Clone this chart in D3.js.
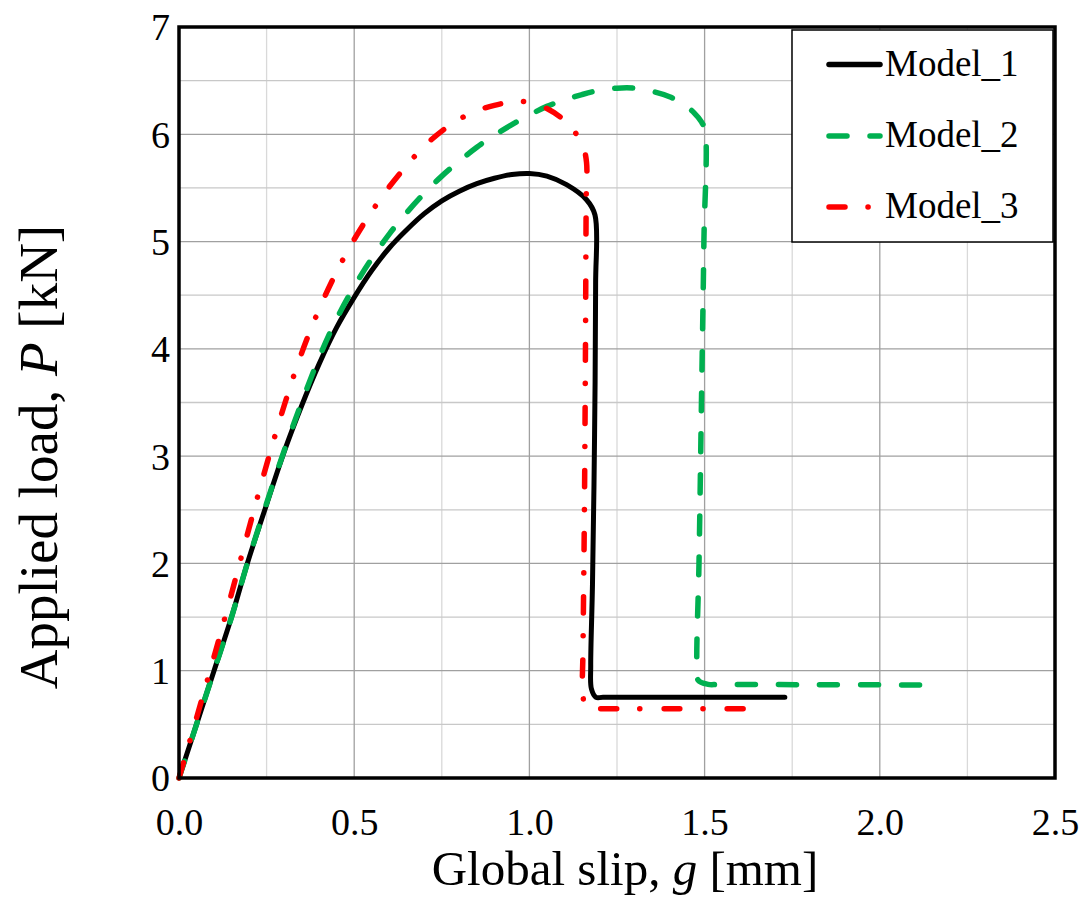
<!DOCTYPE html>
<html>
<head>
<meta charset="utf-8">
<script src="https://cdn.jsdelivr.net/npm/d3@7"></script>
<style>
  html, body { margin: 0; padding: 0; background: #fff; }
  svg { display: block; }
  text { font-family: "Liberation Serif", "Times New Roman", serif; fill: #000; }
</style>
</head>
<body>
<svg id="chart" width="1086" height="897"></svg>
<script>
// ---- data ----
const xTicks = [0.0, 0.5, 1.0, 1.5, 2.0, 2.5];
const xTickLabels = ["0.0", "0.5", "1.0", "1.5", "2.0", "2.5"];
const yTicks = [0, 1, 2, 3, 4, 5, 6, 7];
const yTickLabels = ["0", "1", "2", "3", "4", "5", "6", "7"];
const xMinorGrid = [0.25, 0.75, 1.25, 1.75, 2.25];
const yMinorGrid = [0.5, 1.5, 2.5, 3.5, 4.5, 5.5, 6.5];
const seriesNames = ["Model_1", "Model_2", "Model_3"];

const model1 = [[0,0],[0.05,0.5],[0.10,1.0],[0.15,1.5],[0.195,2.0],[0.25,2.55],[0.30,3.04],[0.35,3.47],
  [0.40,3.86],[0.45,4.20],[0.50,4.48],[0.55,4.73],[0.60,4.94],[0.65,5.11],[0.70,5.26],[0.75,5.38],
  [0.80,5.47],[0.85,5.54],[0.90,5.59],[0.95,5.625],[1.0,5.635],[1.05,5.61],[1.106,5.53],[1.163,5.39],
  [1.187,5.25],[1.189,4.6],[1.186,3.2],[1.180,1.8],[1.175,1.05],[1.177,0.83],[1.19,0.752],[1.21,0.752],
  [1.45,0.752],[1.729,0.752]];
const model2 = [[0,0],[0.05,0.5],[0.10,1.0],[0.15,1.5],[0.195,2.0],[0.25,2.56],[0.30,3.05],[0.35,3.50],
  [0.40,3.92],[0.45,4.28],[0.50,4.58],[0.55,4.84],[0.60,5.07],[0.65,5.27],[0.70,5.45],[0.75,5.61],
  [0.80,5.75],[0.85,5.88],[0.90,5.99],[0.95,6.09],[1.0,6.18],[1.05,6.26],[1.10,6.32],[1.15,6.37],
  [1.20,6.41],[1.25,6.43],[1.30,6.43],[1.35,6.40],[1.40,6.35],[1.44,6.28],[1.47,6.20],[1.49,6.12],
  [1.501,6.04],[1.498,5.0],[1.491,3.5],[1.484,2.0],[1.478,1.05],[1.482,0.91],[1.51,0.873],[1.54,0.872],
  [1.8,0.87],[2.124,0.867]];
const model3 = [[0,0],[0.05,0.56],[0.10,1.13],[0.15,1.72],[0.20,2.33],[0.25,2.92],[0.30,3.47],
  [0.35,3.96],[0.40,4.37],[0.45,4.72],[0.50,5.02],[0.55,5.28],[0.60,5.51],[0.65,5.71],[0.70,5.89],
  [0.75,6.03],[0.80,6.14],[0.85,6.22],[0.90,6.27],[0.95,6.30],[1.0,6.30],[1.05,6.24],[1.10,6.13],
  [1.13,6.02],[1.152,5.90],[1.163,5.74],[1.162,5.39],[1.160,4.0],[1.157,2.5],[1.153,1.2],[1.152,0.82],
  [1.16,0.665],[1.175,0.646],[1.20,0.646],[1.4,0.646],[1.658,0.646]];

const seriesData = [model1, model2, model3];
const seriesColors = ["#000000", "#00b050", "#ff0000"];
const seriesDash = [null, "18,23", "16,23,0.1,24"];

// ---- layout ----
const svg = d3.select("#chart");
const L = 179, T = 27, R = 1055, B = 778;
const x = d3.scaleLinear().domain([0, 2.5]).range([L, R]);
const y = d3.scaleLinear().domain([0, 7]).range([B, T]);

// minor grid
const grid = svg.append("g");
grid.selectAll(".vmin").data(xMinorGrid).enter().append("line")
  .attr("x1", d => x(d)).attr("x2", d => x(d)).attr("y1", T).attr("y2", B)
  .attr("stroke", "#d9d9d9").attr("stroke-width", 1.3);
grid.selectAll(".hmin").data(yMinorGrid).enter().append("line")
  .attr("x1", L).attr("x2", R).attr("y1", d => y(d)).attr("y2", d => y(d))
  .attr("stroke", "#c8c8c8").attr("stroke-width", 1.3);
// major grid
grid.selectAll(".vmaj").data(xTicks).enter().append("line")
  .attr("x1", d => x(d)).attr("x2", d => x(d)).attr("y1", T).attr("y2", B)
  .attr("stroke", "#a0a0a0").attr("stroke-width", 1.3);
grid.selectAll(".hmaj").data(yTicks).enter().append("line")
  .attr("x1", L).attr("x2", R).attr("y1", d => y(d)).attr("y2", d => y(d))
  .attr("stroke", "#a0a0a0").attr("stroke-width", 1.3);

// axes (labels only)
const xAxis = d3.axisBottom(x).tickValues(xTicks).tickSize(0).tickPadding(0)
  .tickFormat((d, i) => xTickLabels[i]);
const gx = svg.append("g").attr("transform", `translate(0,${B})`).call(xAxis);
gx.select(".domain").remove();
gx.selectAll("text").attr("font-size", 38).attr("dy", null).attr("y", 57)
  .style("font-family", "'Liberation Serif', serif");

const yAxis = d3.axisLeft(y).tickValues(yTicks).tickSize(0).tickPadding(0)
  .tickFormat((d, i) => yTickLabels[i]);
const gy = svg.append("g").attr("transform", `translate(${L},0)`).call(yAxis);
gy.select(".domain").remove();
gy.selectAll("text").attr("font-size", 38).attr("x", -9).attr("dy", "0.34em")
  .style("font-family", "'Liberation Serif', serif");

// series
const line = d3.line().x(d => x(d[0])).y(d => y(d[1])).curve(d3.curveCatmullRom.alpha(0.5));
[0, 1, 2].forEach(i => {
  const p = svg.append("path").datum(seriesData[i])
    .attr("d", line).attr("fill", "none")
    .attr("stroke", seriesColors[i]).attr("stroke-width", i === 0 ? 5 : 5.5)
    .attr("stroke-linecap", "round").attr("stroke-linejoin", "round");
  if (seriesDash[i]) p.attr("stroke-dasharray", seriesDash[i]);
});

// frame
svg.append("rect").attr("x", L).attr("y", T).attr("width", R - L).attr("height", B - T)
  .attr("fill", "none").attr("stroke", "#000").attr("stroke-width", 3.5);

// legend
const lg = svg.append("g");
lg.append("rect").attr("x", 792).attr("y", 30).attr("width", 261).attr("height", 212)
  .attr("fill", "#fff").attr("stroke", "#000").attr("stroke-width", 1.5);
const legY = [64.5, 136, 207];
seriesNames.forEach((name, i) => {
  const l = lg.append("line").attr("x1", 829).attr("x2", 880)
    .attr("y1", legY[i]).attr("y2", legY[i])
    .attr("stroke", seriesColors[i]).attr("stroke-width", 5.5).attr("stroke-linecap", "round");
  if (seriesDash[i]) l.attr("stroke-dasharray", seriesDash[i]);
  lg.append("text").attr("x", 885).attr("y", legY[i] + 11).attr("font-size", 37).text(name);
});

// axis titles
const xt = svg.append("text").attr("x", 625).attr("y", 885).attr("text-anchor", "middle")
  .attr("font-size", 49);
xt.append("tspan").text("Global slip, ");
xt.append("tspan").attr("font-style", "italic").text("g");
xt.append("tspan").text(" [mm]");

const yt = svg.append("text").attr("transform", "translate(57,457) rotate(-90)")
  .attr("text-anchor", "middle").attr("font-size", 55);
yt.append("tspan").text("Applied load, ");
yt.append("tspan").attr("font-style", "italic").text("P");
yt.append("tspan").text(" [kN]");
</script>
</body>
</html>
